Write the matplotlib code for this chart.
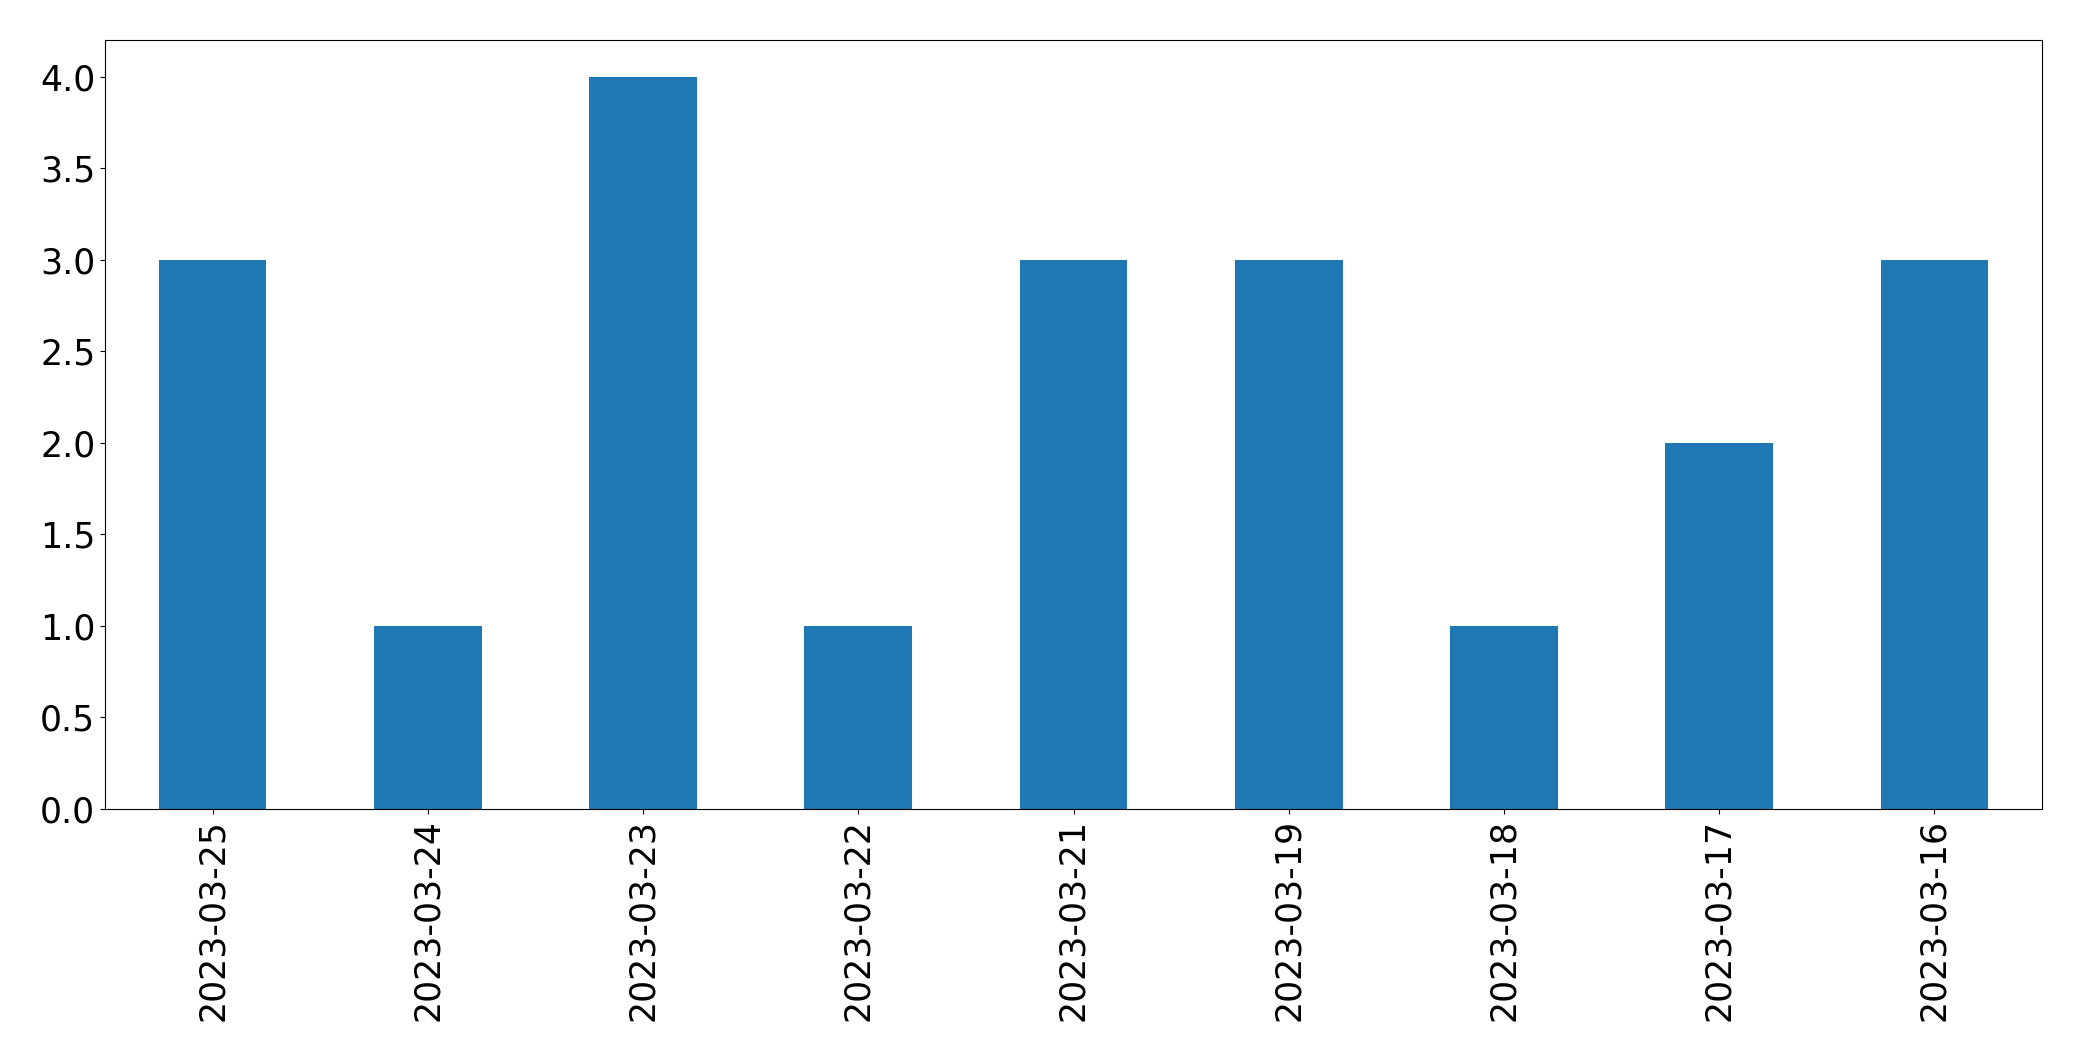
import matplotlib
matplotlib.use("Agg")
import matplotlib.pyplot as plt
import pandas as pd

dates = ["2023-03-25", "2023-03-24", "2023-03-23", "2023-03-22", "2023-03-21",
         "2023-03-19", "2023-03-18", "2023-03-17", "2023-03-16"]
counts = [3, 1, 4, 1, 3, 3, 1, 2, 3]

s = pd.Series(counts, index=dates)

fig = plt.figure(figsize=(20.82, 10.61), dpi=100)
ax = fig.add_axes([105 / 2082, 1 - 809 / 1061, (2042 - 105) / 2082, (809 - 40) / 1061])
s.plot(kind="bar", ax=ax, color="#1f77b4")
ax.tick_params(labelsize=25)
fig.savefig("out.png", dpi=100)
